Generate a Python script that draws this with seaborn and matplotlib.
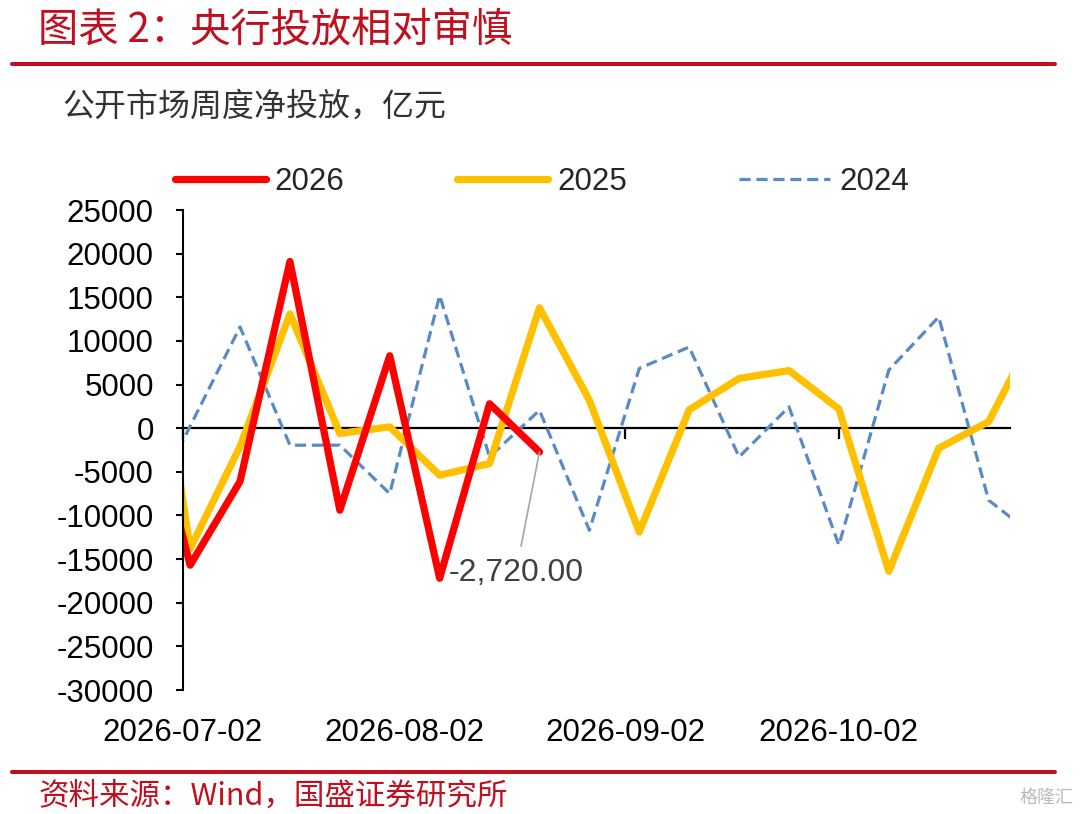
import pandas as pd
import matplotlib
matplotlib.use('Agg')
import matplotlib.pyplot as plt
import matplotlib.dates as mdates
from matplotlib.lines import Line2D
import seaborn as sns

# weekly dates; first and last week fall outside the axis and get clipped
weeks = ['2026-06-26', '2026-07-03', '2026-07-10', '2026-07-17', '2026-07-24',
         '2026-07-31', '2026-08-07', '2026-08-14', '2026-08-21', '2026-08-28',
         '2026-09-04', '2026-09-11', '2026-09-18', '2026-09-25', '2026-10-02',
         '2026-10-09', '2026-10-16', '2026-10-23', '2026-10-30']

val_2026 = [6700, -15700, -6100, 19100, -9400, 8300, -17200, 2800, -2720]
val_2025 = [24000, -13800, -2100, 13100, -600, 150, -5400, -4050, 13800, 3200,
            -11900, 2100, 5700, 6600, 2200, -16400, -2300, 750, 11800]
val_2024 = [-11150, 225, 11600, -1950, -1950, -7500, 15200, -3300, 2050, -11700,
            6850, 9300, -3300, 2450, -13400, 6650, 12750, -8250, -12700]

series_names = ['2026', '2025', '2024']
series_vals = {'2026': val_2026, '2025': val_2025, '2024': val_2024}
last_label = '-2,720.00'

x_start, x_end = '2026-07-02', '2026-10-26'
month_ticks = ['2026-07-02', '2026-08-02', '2026-09-02', '2026-10-02']
yticks = list(range(-30000, 25001, 5000))

title = '图表 2：央行投放相对审慎'
subtitle = '公开市场周度净投放，亿元'
source = '资料来源：Wind，国盛证券研究所'
watermark = '格隆汇'

rows = []
for name in series_names:
    for d, v in zip(weeks, series_vals[name]):
        rows.append({'date': pd.Timestamp(d), 'value': v, 'year': name})
df = pd.DataFrame(rows)

sns.set_theme(style='white')
plt.rcParams['font.family'] = ['Liberation Sans', 'Noto Sans CJK SC', 'DejaVu Sans']
plt.rcParams['axes.unicode_minus'] = False
cjk = ['Noto Sans CJK SC', 'Liberation Sans']
dark_red = '#C0101F'

styles = {
    '2026': dict(color='#FF0000', linewidth=5.2, linestyle='-'),
    '2025': dict(color='#FFC000', linewidth=5.2, linestyle='-'),
    '2024': dict(color='#5A8AC6', linewidth=2.3, linestyle=(0, (3.5, 1.8))),
}

fig = plt.figure(figsize=(10.8, 8.14), dpi=100)
ax = fig.add_axes([183 / 1080, 1 - 690 / 814, 827 / 1080, 480 / 814])

# draw older years first so 2026 stays on top
for name in ['2024', '2025', '2026']:
    sns.lineplot(data=df[df['year'] == name], x='date', y='value', ax=ax,
                 errorbar=None, sort=False, legend=False, **styles[name])

handles = {}
for line, name in zip(ax.get_lines(), ['2024', '2025', '2026']):
    handles[name] = line

# axes limits / ticks
ax.set_xlim(mdates.date2num(pd.Timestamp(x_start)), mdates.date2num(pd.Timestamp(x_end)))
ax.set_ylim(-30000, 25000)
ax.set_yticks(yticks)
ax.set_xticks(mdates.date2num(pd.to_datetime(month_ticks)))
ax.xaxis.set_major_formatter(mdates.DateFormatter('%Y-%m-%d'))
ax.set_xlabel('')
ax.set_ylabel('')
ax.tick_params(axis='y', direction='out', length=5, width=1.5, pad=16,
               labelsize=22.5, colors='black', left=True)
ax.tick_params(axis='x', length=0, pad=20, labelsize=22.5, colors='black')
for s in ['top', 'right', 'bottom']:
    ax.spines[s].set_visible(False)
ax.spines['left'].set_color('black')
ax.spines['left'].set_linewidth(1.5)
ax.grid(False)

# horizontal axis line crossing at zero, with month ticks
ylo, yhi = ax.get_ylim()
zero_frac = (0 - ylo) / (yhi - ylo)
sec = ax.secondary_xaxis(zero_frac)
sec.set_alignment('bottom')
sec.set_xticks(mdates.date2num(pd.to_datetime(month_ticks)))
sec.tick_params(direction='out', length=8, width=1.6, colors='black',
                labelbottom=False, labeltop=False)
sec.spines['bottom'].set_color('black')
sec.spines['bottom'].set_linewidth(1.6)

# data label on the last 2026 point
last_date = mdates.date2num(pd.Timestamp(weeks[len(val_2026) - 1]))
ax.annotate(last_label, xy=(last_date, val_2026[-1]), xytext=(-17, -87),
            textcoords='offset points', ha='center', va='center',
            fontsize=23, color='#404040',
            arrowprops=dict(arrowstyle='-', color='#A6A6A6', lw=1.2,
                            shrinkA=6, shrinkB=0))

# legend above the plot
fig.legend([handles[n] for n in series_names], series_names,
           loc='center', bbox_to_anchor=(542 / 1080, 1 - 182 / 814), ncol=3,
           frameon=False, fontsize=22.5, handlelength=2.9, handletextpad=0.3,
           columnspacing=3.6)

# header / footer
fig.text(38 / 1080, 1 - 30 / 814, title, color=dark_red, fontsize=29,
         ha='left', va='center', family=cjk)
fig.add_artist(Line2D([12 / 1080, 1055 / 1080], [1 - 64 / 814, 1 - 64 / 814],
                      color=dark_red, lw=2.9))
fig.text(62 / 1080, 1 - 107 / 814, subtitle, color='#333333', fontsize=23,
         ha='left', va='center', family=cjk)
fig.add_artist(Line2D([12 / 1080, 1055 / 1080], [1 - 772 / 814, 1 - 772 / 814],
                      color=dark_red, lw=2.9))
fig.text(38 / 1080, 1 - 796 / 814, source, color=dark_red, fontsize=22,
         ha='left', va='center', family=cjk)
fig.text(1074 / 1080, 1 - 798 / 814, watermark, color='#BBBBBB', fontsize=13,
         ha='right', va='center', family=cjk)

fig.savefig('out.png', dpi=100)
